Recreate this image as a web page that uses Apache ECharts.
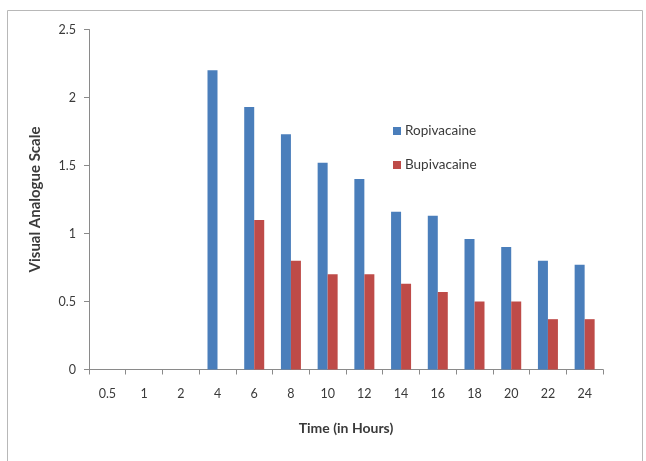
<!DOCTYPE html>
<html>
<head>
<meta charset="utf-8">
<script src="https://cdn.jsdelivr.net/npm/echarts@6/dist/echarts.min.js"></script>
<style>
  html, body { margin: 0; padding: 0; background: #fff; }
  #chart { width: 646px; height: 461px; }
</style>
</head>
<body>
<div id="chart"></div>
<script>
// Time points (hours) and mean VAS scores per drug
const timeLabels = ['0.5', '1', '2', '4', '6', '8', '10', '12', '14', '16', '18', '20', '22', '24'];
const ropivacaine = [0, 0, 0, 2.2, 1.93, 1.73, 1.52, 1.4, 1.16, 1.13, 0.96, 0.9, 0.8, 0.77];
const bupivacaine = [0, 0, 0, 0, 1.1, 0.8, 0.7, 0.7, 0.63, 0.57, 0.5, 0.5, 0.37, 0.37];
const yTicks = { min: 0, max: 2.5, interval: 0.5 };

const fontFamily = 'Lato, "Open Sans", sans-serif';
const axisGray = '#8a8a8a';
const textGray = '#3a3a3a';

const chart = echarts.init(document.getElementById('chart'), null, { renderer: 'canvas' });

chart.setOption({
  animation: false,
  backgroundColor: '#ffffff',
  textStyle: { fontFamily: fontFamily },
  graphic: [{
    type: 'rect',
    shape: { x: 7.5, y: 10.5, width: 635, height: 470 },
    style: { fill: 'none', stroke: '#b8b8b8', lineWidth: 1 },
    silent: true,
    z: -1
  }],
  grid: { left: 89, right: 43, top: 29.5, bottom: 91.5, containLabel: false },
  legend: {
    orient: 'vertical',
    left: 388,
    top: 119,
    itemWidth: 8,
    itemHeight: 8,
    itemGap: 20,
    icon: 'rect',
    textStyle: { fontSize: 13.5, color: textGray, fontFamily: fontFamily, padding: [0, 0, 0, -1] },
    data: ['Ropivacaine', 'Bupivacaine']
  },
  xAxis: {
    type: 'category',
    data: timeLabels,
    boundaryGap: true,
    name: 'Time (in Hours)',
    nameLocation: 'middle',
    nameGap: 52,
    nameTextStyle: { fontSize: 14, fontWeight: 'bold', color: textGray },
    axisLine: { lineStyle: { color: axisGray } },
    axisTick: { show: true, length: 5, inside: false, lineStyle: { color: axisGray } },
    axisLabel: { fontSize: 12.5, color: textGray, margin: 18 },
    splitLine: { show: false }
  },
  yAxis: {
    type: 'value',
    min: yTicks.min,
    max: yTicks.max,
    interval: yTicks.interval,
    name: 'Visual Analogue Scale',
    nameLocation: 'middle',
    nameGap: 46,
    nameTextStyle: { fontSize: 15, fontWeight: 'bold', color: textGray },
    axisLine: { show: true, lineStyle: { color: axisGray } },
    axisTick: { show: true, length: 5, lineStyle: { color: axisGray } },
    axisLabel: { fontSize: 12.5, color: textGray, margin: 13 },
    splitLine: { show: false }
  },
  series: [
    {
      name: 'Ropivacaine',
      type: 'bar',
      data: ropivacaine,
      barWidth: 10,
      barGap: '0%',
      itemStyle: { color: '#4a7ebb' }
    },
    {
      name: 'Bupivacaine',
      type: 'bar',
      data: bupivacaine,
      barWidth: 10,
      barGap: '0%',
      itemStyle: { color: '#be4b48' }
    }
  ]
});
</script>
</body>
</html>
